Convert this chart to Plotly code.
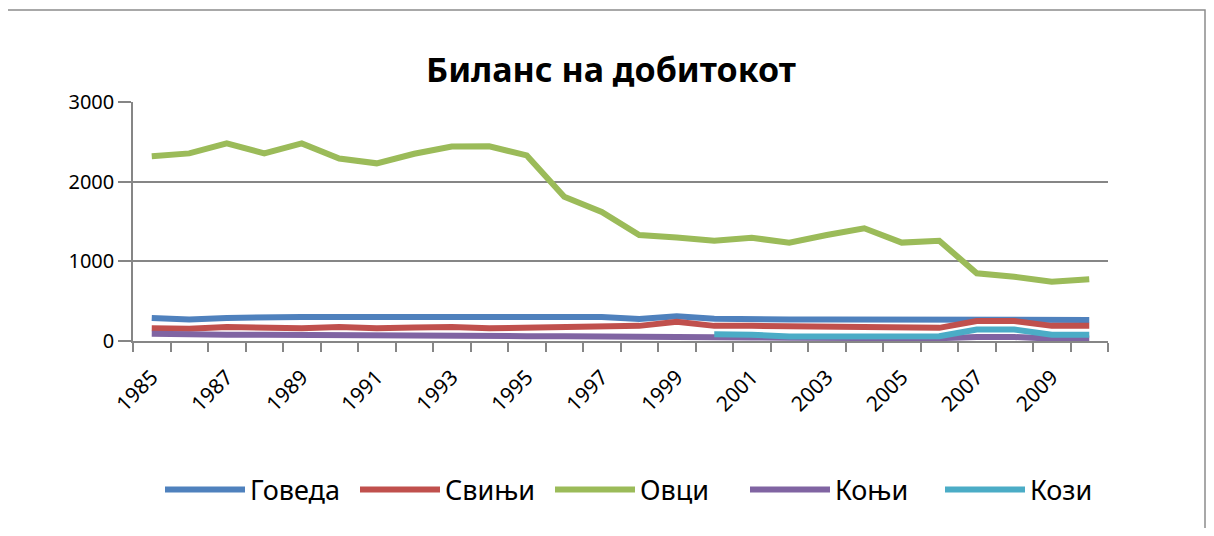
import plotly.graph_objects as go

years = list(range(1985, 2011))
tick_years = list(range(1985, 2011, 2))
tick_labels = [str(y) for y in tick_years]

series_names = ["Говеда", "Свињи", "Овци", "Коњи", "Кози"]

goveda = [290, 270, 290, 300, 300, 300, 300, 300, 300, 300, 300, 300, 300,
          275, 310, 280, 270, 270, 270, 270, 270, 270, 270, 270, 268, 265]
svinji = [160, 155, 175, 165, 160, 175, 160, 170, 175, 160, 170, 180, 190,
          190, 240, 190, 190, 185, 185, 165, 165, 165, 250, 250, 190, 190]
ovci = [2320, 2355, 2480, 2355, 2480, 2290, 2230, 2350, 2440, 2445, 2330, 1810, 1620,
        1330, 1300, 1260, 1295, 1235, 1330, 1415, 1235, 1258, 850, 807, 745, 775]
konji = [90, 80, 80, 80, 75, 75, 70, 70, 65, 60, 60, 60, 60,
         60, 60, 55, 45, 40, 35, 35, 35, 35, 50, 50, 30, 30]
kozi = [None] * 15 + [85, 80, 55, 55, 60, 60, 60, 145, 145, 80, 80]

colors = ["#4F81BD", "#C0504D", "#9BBB59", "#8064A2", "#4BACC6"]
data = [goveda, svinji, ovci, konji, kozi]

FONT = "Noto Sans"

fig = go.Figure()
for name, vals, col in zip(series_names, data, colors):
    fig.add_trace(go.Scatter(x=years, y=vals, name=name, mode="lines",
                             line=dict(color=col, width=6),
                             connectgaps=False))

# page offset (body margin) of the figure div
OFF = 8
# plot area in window pixels
L, R, T, B = 133, 1108, 102, 341
W, H = 1214 - 2 * OFF, 536 - 2 * OFF

def px(x):
    return (x - L) / (R - L)

def py(y):
    return (B - y) / (B - T)

fig.update_layout(
    width=W, height=H,
    margin=dict(l=L - OFF, r=W - (R - OFF), t=T - OFF, b=H - (B - OFF),
                autoexpand=False),
    paper_bgcolor="white", plot_bgcolor="white",
    title=dict(text="<b>Биланс на добитокот</b>", xref="paper", x=px(611),
               xanchor="center",
               y=1 - (70 - OFF) / H, yanchor="middle",
               font=dict(family=FONT, size=34, color="black")),
    font=dict(family=FONT, color="black"),
    showlegend=True,
    legend=dict(orientation="h", xref="container", yref="container",
                x=(160 - OFF) / W, xanchor="left",
                y=1 - (490 - OFF) / H, yanchor="middle",
                font=dict(size=27, family=FONT),
                itemwidth=80, entrywidth=100, entrywidthmode="pixels",
                traceorder="normal"),
    shapes=[dict(type="rect", xref="paper", yref="paper",
                 x0=px(5), x1=px(1205), y0=py(532), y1=py(10),
                 line=dict(color="#8C8C8C", width=1.5), fillcolor="rgba(0,0,0,0)",
                 layer="below")],
)

fig.update_xaxes(
    range=[1984.5, 2010.5],
    tickmode="array", tickvals=tick_years, ticktext=tick_labels,
    tickangle=-45, ticks="outside", ticklen=14, tickcolor="rgba(0,0,0,0)",
    showgrid=False,
    showline=True, linecolor="#868686", linewidth=1.5,
    tickfont=dict(size=21, family=FONT, color="black"),
    minor=dict(ticks="outside", tick0=1984.5, dtick=1, ticklen=9,
               tickcolor="#868686", tickwidth=1.5, showgrid=False),
    zeroline=False,
)
fig.update_yaxes(
    range=[0, 3000], tickvals=[0, 1000, 2000, 3000],
    ticks="outside", ticklen=13, tickcolor="#868686", tickwidth=1.5,
    showgrid=True, gridcolor="#868686", gridwidth=1.5,
    showline=True, linecolor="#868686", linewidth=1.5,
    tickfont=dict(size=20, family=FONT, color="black"),
    zeroline=False,
)

fig.write_html("out.html")
